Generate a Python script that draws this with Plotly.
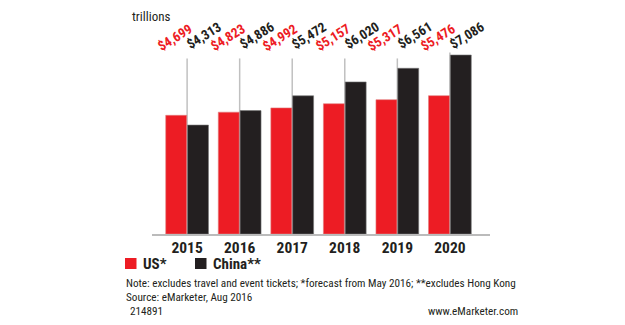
import plotly.graph_objects as go

years = ["2015", "2016", "2017", "2018", "2019", "2020"]
us = [4.699, 4.823, 4.992, 5.157, 5.317, 5.476]
china = [4.313, 4.886, 5.472, 6.020, 6.561, 7.086]
us_labels = ["$4,699", "$4,823", "$4,992", "$5,157", "$5,317", "$5,476"]
china_labels = ["$4,313", "$4,886", "$5,472", "$6,020", "$6,561", "$7,086"]
series_names = ["US*", "China**"]

RED = "#ED1C24"
BLACK = "#231F20"
NARROW = "Roboto Condensed, Roboto, Arial, sans-serif"

# plot area pixel geometry helpers (for non-data decorations only)
L, R, T, B, W, H = 152, 135, 40, 91, 625, 325
PW, PH = W - L - R, H - T - B
def px(xp):
    return (xp - L) / PW
def py(yp):
    return (H - B - yp) / PH

fig = go.Figure()
fig.add_trace(go.Bar(x=years, y=us, name=series_names[0],
                     marker=dict(color=RED, line=dict(color="#e08080", width=0.6))))
fig.add_trace(go.Bar(x=years, y=china, name=series_names[1],
                     marker=dict(color=BLACK, line=dict(color="#777", width=0.6))))

shapes = []
annotations = []
for i, y in enumerate(years):
    top = max(6.95, max(us[i], china[i]) + 0.1)
    shapes.append(dict(type="line", xref="x", yref="y", x0=i, x1=i, y0=0, y1=top,
                       line=dict(color="#c0c0c0", width=1.5), layer="below"))
    annotations.append(dict(xref="x", yref="paper", x=i, y=py(37), xshift=-12, yanchor="middle", xanchor="center",
                            text="<b>%s</b>" % us_labels[i], textangle=-32, showarrow=False,
                            font=dict(family=NARROW, size=13.5, color=RED)))
    annotations.append(dict(xref="x", yref="paper", x=i, y=py(35), xshift=17, yanchor="middle", xanchor="center",
                            text="<b>%s</b>" % china_labels[i], textangle=-32, showarrow=False,
                            font=dict(family=NARROW, size=13.5, color=BLACK)))

# legend (manual, to match layout)
for x0, x1, col in [(125, 136.5, RED), (195, 206.5, BLACK)]:
    shapes.append(dict(type="rect", xref="paper", yref="paper", x0=px(x0), x1=px(x1), y0=py(269), y1=py(258),
                       fillcolor=col, line=dict(width=0)))
for xl, name in [(141, series_names[0]), (211, series_names[1])]:
    annotations.append(dict(xref="paper", yref="paper", x=px(xl), y=py(264), xanchor="left", yanchor="middle",
                            text="<b>%s</b>" % name, showarrow=False,
                            font=dict(family=NARROW, size=15, color=BLACK)))

annotations += [
    dict(xref="paper", yref="paper", x=px(130), y=py(17), xanchor="left", yanchor="middle", text="trillions",
         showarrow=False, font=dict(family=NARROW, size=13, color=BLACK)),
    dict(xref="paper", yref="paper", x=px(124), y=py(283), xanchor="left", yanchor="middle",
         text="Note: excludes travel and event tickets; *forecast from May 2016; **excludes Hong Kong",
         showarrow=False, font=dict(family=NARROW, size=11.2, color=BLACK)),
    dict(xref="paper", yref="paper", x=px(124), y=py(297), xanchor="left", yanchor="middle",
         text="Source: eMarketer, Aug 2016", showarrow=False, font=dict(family=NARROW, size=11.2, color=BLACK)),
    dict(xref="paper", yref="paper", x=px(128), y=py(311), xanchor="left", yanchor="middle",
         text="214891", showarrow=False, font=dict(family=NARROW, size=11.2, color=BLACK)),
    dict(xref="paper", yref="paper", x=px(520), y=py(311), xanchor="right", yanchor="middle",
         text="www.eMarketer.com", showarrow=False, font=dict(family=NARROW, size=11.2, color=BLACK)),
]

fig.update_layout(
    width=W, height=H,
    margin=dict(l=L, r=R, t=T, b=B),
    paper_bgcolor="white", plot_bgcolor="white",
    barmode="group", bargap=0.17, bargroupgap=0.04,
    xaxis=dict(showgrid=False, showline=True, linecolor="#bbbbbb", linewidth=2, ticks="",
               tickfont=dict(family=NARROW, size=15.5, color=BLACK), ticklen=0, ticklabelstandoff=-2,
               tickprefix="<b>", ticksuffix="</b>"),
    yaxis=dict(range=[0, 7.68], showgrid=False, showticklabels=False, zeroline=False, showline=False),
    shapes=shapes, annotations=annotations,
    showlegend=False,
)
fig.write_html("out.html")
